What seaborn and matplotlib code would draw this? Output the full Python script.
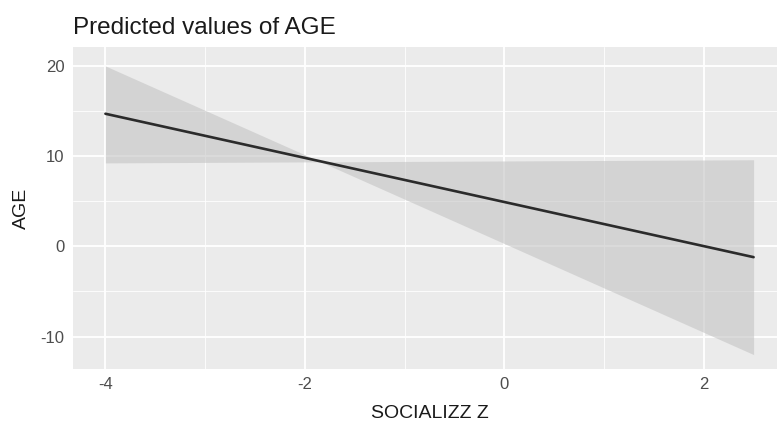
import matplotlib
matplotlib.use("Agg")
import matplotlib.pyplot as plt
import seaborn as sns
import pandas as pd
import numpy as np

# Data
socializz_z = [-4.0, 2.5]
predicted_age = [14.7, -1.2]
conf_a = [20.0, -12.0]     # sloped CI bound
conf_b = [9.25, 9.6]       # flat CI bound
x_ticks = [-4, -2, 0, 2]
y_ticks = [-10, 0, 10, 20]

df = pd.DataFrame({"SOCIALIZZ Z": socializz_z, "AGE": predicted_age})

sns.set_theme(style="darkgrid")
plt.rcParams["font.family"] = ["Liberation Sans", "DejaVu Sans"]

fig = plt.figure(figsize=(7.77, 4.24), dpi=100)
W, H = 777, 424
left, right, top, bottom = 73, 786, 47, 369
ax = fig.add_axes([left / W, 1 - bottom / H, (right - left) / W, (bottom - top) / H])
ax.set_facecolor("#EBEBEB")

ax.fill_between(socializz_z, conf_a, conf_b, color="#C4C4C4", alpha=0.6, linewidth=0, zorder=2)
sns.lineplot(data=df, x="SOCIALIZZ Z", y="AGE", ax=ax, color="#2B2B2B", linewidth=1.9, zorder=3)

ax.set_xlim(-4.325, 2.825)
ax.set_ylim(-13.6, 22.1)
ax.set_xticks(x_ticks)
ax.set_yticks(y_ticks)
ax.set_xticks([-3, -1, 1], minor=True)
ax.set_yticks([-5, 5, 15], minor=True)
ax.grid(which="major", color="white", linewidth=1.3, zorder=1)
ax.grid(which="minor", color="white", linewidth=0.6, zorder=1)
ax.set_axisbelow(True)
for s in ax.spines.values():
    s.set_visible(False)

ax.tick_params(axis="both", which="major", length=4, width=1, color="#333333",
               labelsize=12, labelcolor="#4D4D4D", pad=2)
ax.tick_params(axis="both", which="minor", length=0)
ax.set_xticklabels([str(v) for v in x_ticks])
ax.set_yticklabels([str(v) for v in y_ticks])

ax.set_xlabel("SOCIALIZZ Z", fontsize=14, color="#1A1A1A", labelpad=9)
ax.set_ylabel("AGE", fontsize=14, color="#1A1A1A", labelpad=8)
fig.text(left / W, 1 - 34 / H, "Predicted values of AGE", fontsize=17.5, color="#1A1A1A",
         ha="left", va="baseline")

fig.savefig("out.png", dpi=100)
